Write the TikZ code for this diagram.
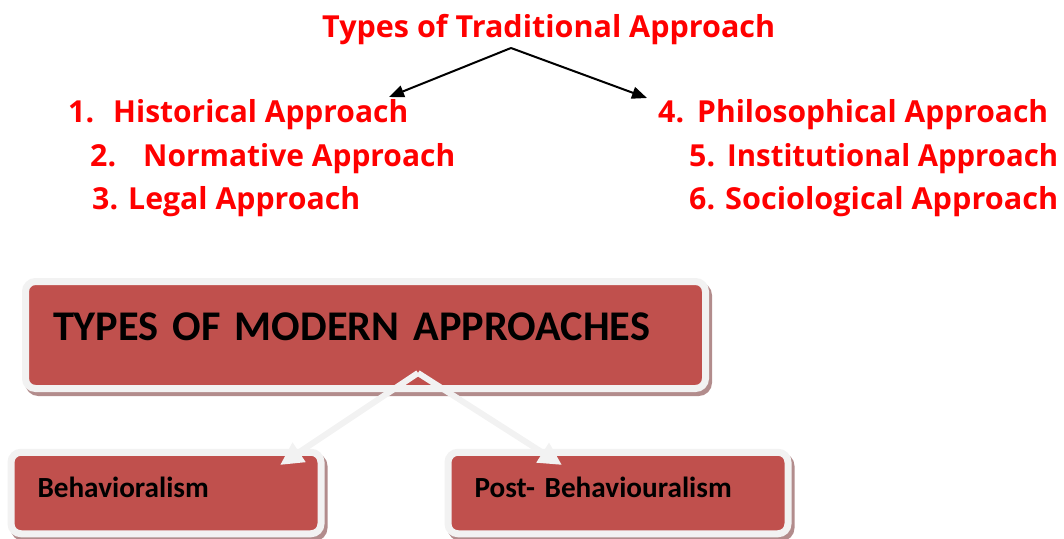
\documentclass[tikz,border=0pt]{standalone}
\usepackage{fontspec}
\setmainfont{Open Sans}
\newfontfamily\boxfont{Carlito}
\usetikzlibrary{arrows.meta}

\definecolor{accentred}{RGB}{192,80,77}
\definecolor{rimgrey}{RGB}{242,242,242}
\definecolor{shadowrose}{RGB}{178,140,140}
\definecolor{listred}{RGB}{255,0,0}

% set a line of text to a given width, keeping its height
\newcommand{\fitw}[2]{\resizebox{#1}{\height}{#2}}

\tikzset{
  redtext/.style={text=listred, inner sep=0pt, anchor=base west,
    font=\fontsize{30.3}{30.3}\selectfont\bfseries},
  pointer/.style={line width=2pt, -{Triangle[length=15pt,width=12pt]}},
  card/.style={fill=accentred, draw=rimgrey, line width=7pt,
    rounded corners=10pt, inner ysep=0pt, align=left, anchor=center,
    preaction={fill=shadowrose, draw=shadowrose, line width=7pt,
      transform canvas={shift={(3pt,-4pt)}}}},
  bigcard/.style={card, minimum width=680pt, minimum height=107pt,
    inner xsep=27.5pt, text width=625pt, text depth=16pt,
    font=\boxfont\fontsize{42.3}{42.3}\selectfont\bfseries},
  smallcard/.style={card, minimum height=81.5pt, inner xsep=26.5pt,
    text depth=11pt, font=\boxfont\fontsize{29.2}{29.2}\selectfont\bfseries},
  flow/.style={draw=rimgrey, line width=6pt,
    -{Triangle[length=23pt,width=22pt]}}
}

\begin{document}
\begin{tikzpicture}[x=1pt, y=-1pt]
  \useasboundingbox (0,0) rectangle (1064,538);

  % heading of the traditional approaches
  \node[redtext] (title) at (322,37) {\fitw{453pt}{Types of Traditional Approach}};
  \coordinate (apex) at (511,48);
  \coordinate (tipL) at (389,97);
  \coordinate (tipR) at (647,98);
  \draw[pointer] (apex) -- (tipL);
  \draw[pointer] (apex) -- (tipR);

  % left column
  \node[redtext] (n1) at (68,122)  {1.};
  \node[redtext] (t1) at (113,122) {\fitw{295pt}{Historical Approach}};
  \node[redtext] (n2) at (90,166)  {2.};
  \node[redtext] (t2) at (143,166) {\fitw{312pt}{Normative Approach}};
  \node[redtext] (n3) at (92,209)  {3.};
  \node[redtext] (t3) at (128,209) {\fitw{232pt}{Legal Approach}};

  % right column
  \node[redtext] (n4) at (658,122) {4.};
  \node[redtext] (t4) at (697,122) {\fitw{351pt}{Philosophical Approach}};
  \node[redtext] (n5) at (689,166) {5.};
  \node[redtext] (t5) at (727,166) {\fitw{331pt}{Institutional Approach}};
  \node[redtext] (n6) at (689,209) {6.};
  \node[redtext] (t6) at (725,209) {\fitw{333pt}{Sociological Approach}};

  % modern approaches
  \node[bigcard] (modern) at (365.5,335) {TYPES OF MODERN APPROACHES};
  \node[smallcard, minimum width=310pt, text width=257pt] (behav)
    at (166,493) {Behavioralism};
  \node[smallcard, minimum width=340pt, text width=287pt] (postb)
    at (618,493) {Post- Behaviouralism};

  \coordinate (mapex) at (418,373);
  \coordinate (mtipL) at (280,465);
  \coordinate (mtipR) at (562,465);
  \draw[flow] (mapex) -- (mtipL);
  \draw[flow] (mapex) -- (mtipR);
\end{tikzpicture}
\end{document}
